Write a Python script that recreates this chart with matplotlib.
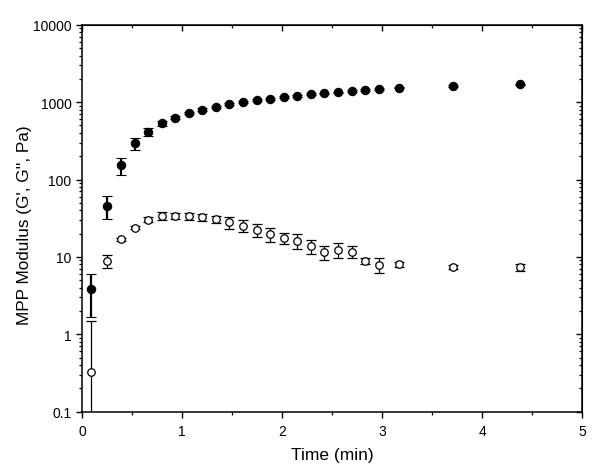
import matplotlib
matplotlib.use("Agg")
import matplotlib.pyplot as plt
from matplotlib.ticker import LogLocator, NullFormatter, MultipleLocator

plt.rcParams['font.family'] = ['Liberation Sans', 'DejaVu Sans']

time_min = [0.093, 0.247, 0.387, 0.527, 0.66, 0.797, 0.933, 1.067, 1.203, 1.337,
            1.473, 1.61, 1.747, 1.88, 2.017, 2.153, 2.29, 2.423, 2.56, 2.697,
            2.833, 2.97, 3.17, 3.71, 4.377]
g_prime = [3.85, 45.8, 154, 296, 415, 532, 629, 723, 798, 873,
           938, 1006, 1054, 1107, 1164, 1211, 1262, 1299, 1339, 1391,
           1432, 1475, 1535, 1615, 1698]
g_prime_err_lo = [2.19, 15, 40, 53, 54, 35, 30, 30, 30, 30,
                  30, 30, 30, 30, 30, 30, 30, 30, 30, 30,
                  30, 30, 35, 35, 40]
g_prime_err_hi = [2.11, 15, 34, 51, 51, 35, 30, 30, 30, 30,
                  30, 30, 30, 30, 30, 30, 30, 30, 30, 30,
                  30, 30, 35, 35, 40]
g_dprime = [0.329, 8.93, 17.0, 23.8, 30.3, 33.8, 34.1, 33.4, 32.5, 30.6,
            28.0, 25.3, 22.3, 19.8, 17.5, 16.2, 13.7, 11.5, 12.4, 11.7,
            8.85, 7.85, 8.01, 7.46, 7.33]
g_dprime_err_lo = [0.28, 1.7, 0.8, 1.0, 2.0, 3.7, 3.0, 3.0, 3.5, 3.5,
                   4.8, 4.6, 4.0, 4.0, 2.7, 3.4, 2.7, 2.3, 2.7, 2.0,
                   0.8, 1.7, 0.6, 0.5, 0.8]
g_dprime_err_hi = [1.17, 1.7, 0.8, 1.0, 2.0, 3.7, 3.0, 3.0, 3.5, 3.5,
                   4.8, 4.6, 4.0, 4.0, 2.7, 3.4, 2.7, 2.3, 2.7, 2.0,
                   0.8, 1.7, 0.6, 0.5, 0.8]

fig = plt.figure(figsize=(6.0, 4.77), dpi=100)
ax = fig.add_axes([0.1367, 0.1348, 0.8333, 0.8113])

ax.errorbar(time_min, g_prime, yerr=[g_prime_err_lo, g_prime_err_hi], fmt='o',
            color='black', ecolor='black', elinewidth=1.6, capsize=3.5, capthick=1.6,
            markersize=6.0, mew=0.8, zorder=3)
ax.errorbar(time_min, g_dprime, yerr=[g_dprime_err_lo, g_dprime_err_hi], fmt='o',
            mfc='white', mec='black', mew=0.9, color='black', ecolor='black',
            elinewidth=0.9, capsize=3.5, capthick=0.9, markersize=5.4, zorder=3)

ax.set_yscale('log')
ax.set_xlim(0, 5)
ax.set_ylim(0.1, 10000)
ax.set_xticks([0, 1, 2, 3, 4, 5])
ax.xaxis.set_minor_locator(MultipleLocator(0.5))
ax.set_yticks([0.1, 1, 10, 100, 1000, 10000])
ax.set_yticklabels(['0.1', '1', '10', '100', '1000', '10000'])
ax.yaxis.set_minor_locator(LogLocator(base=10, subs=range(2, 10)))
ax.yaxis.set_minor_formatter(NullFormatter())

for s in ax.spines.values():
    s.set_linewidth(1.1)

ax.tick_params(which='major', direction='out', length=4.5, width=1.0, labelsize=10, pad=3)
ax.tick_params(axis='x', which='major', pad=4.5)
ax.tick_params(which='minor', direction='out', length=2.5, width=0.9)

# mirrored inward ticks on top and right
secx = ax.secondary_xaxis('top')
secx.set_xticks([0, 1, 2, 3, 4, 5])
secx.xaxis.set_minor_locator(MultipleLocator(0.5))
secx.tick_params(which='major', direction='in', length=4.5, width=1.0, labeltop=False)
secx.tick_params(which='minor', direction='in', length=2.5, width=0.9)
secy = ax.secondary_yaxis('right')
secy.set_yticks([0.1, 1, 10, 100, 1000, 10000])
secy.yaxis.set_minor_locator(LogLocator(base=10, subs=range(2, 10)))
secy.yaxis.set_minor_formatter(NullFormatter())
secy.tick_params(which='major', direction='in', length=4.5, width=1.0, labelright=False)
secy.tick_params(which='minor', direction='in', length=2.5, width=0.9)

ax.set_xlabel('Time (min)', fontsize=12.5, labelpad=6)
ax.set_ylabel("MPP Modulus (G', G'', Pa)", fontsize=12.3)
ax.yaxis.set_label_coords(-0.10, 0.484)

fig.savefig('out.png', dpi=100)
